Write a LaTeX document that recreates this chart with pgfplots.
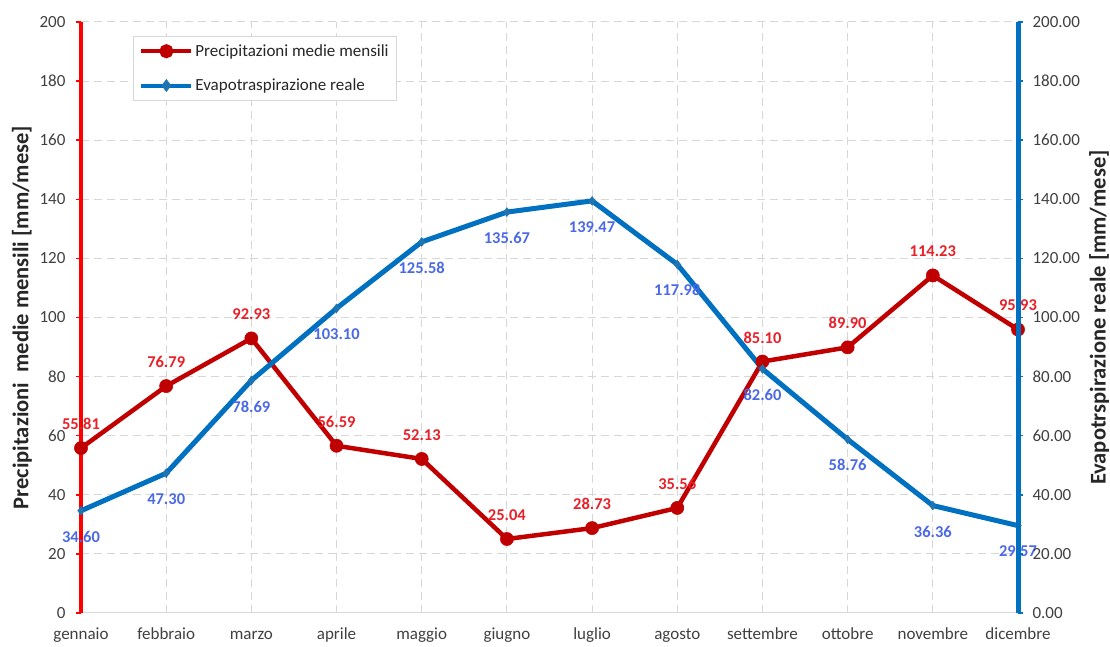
\documentclass[border=0pt]{standalone}
\usepackage{pgfplots}
\pgfplotsset{compat=1.18}
\usepackage{pgfplotstable}
\usepackage{fontspec}
\setmainfont{Carlito}

\definecolor{precred}{RGB}{192,0,0}
\definecolor{axred}{RGB}{255,0,0}
\definecolor{evblue}{RGB}{0,112,192}
\definecolor{lblred}{RGB}{232,32,40}
\definecolor{lblblue}{RGB}{75,105,230}
\definecolor{gridgray}{RGB}{215,215,215}
\definecolor{tickgray}{RGB}{64,64,64}

% monthly means: precipitation and actual evapotranspiration [mm/month]
\pgfplotstableread{
m  prec   evap
0  55.81  34.60
1  76.79  47.30
2  92.93  78.69
3  56.59  103.10
4  52.13  125.58
5  25.04  135.67
6  28.73  139.47
7  35.56  117.98
8  85.10  82.60
9  89.90  58.76
10 114.23 36.36
11 95.93  29.57
}\datatable

\pgfplotsset{
  frame/.style={
    at={(81pt,34pt)}, anchor=south west,
    scale only axis, width=937pt, height=591pt,
    xmin=0, xmax=11, ymin=0, ymax=200,
    xtick={0,...,11}, ytick={0,20,...,200},
    clip=false,
    font=\fontsize{17}{19}\selectfont,
    tick label style={text=tickgray},
    /pgf/number format/assume math mode=true,
    tick align=outside, major tick length=5pt,
  },
  vallabel/.style={
    nodes near coords,
    nodes near coords style={font=\fontsize{16.5}{18}\selectfont\bfseries,
      /pgf/number format/fixed, /pgf/number format/fixed zerofill,
      /pgf/number format/precision=2,
      /pgf/number format/assume math mode=true},
  },
}

\begin{document}
\begin{tikzpicture}
\useasboundingbox (0,0) rectangle (1110pt,647pt);

% left scale, grid, months and both series
\begin{axis}[frame,
  axis x line*=bottom, axis y line*=left,
  x axis line style={gridgray, line width=1pt},
  y axis line style={axred, line width=3.5pt},
  xtick style={draw=none},
  ytick style={axred, line width=1.5pt},
  yticklabel style={xshift=-7pt},
  xticklabels={gennaio,febbraio,marzo,aprile,maggio,giugno,luglio,agosto,settembre,ottobre,novembre,dicembre},
  xticklabel style={anchor=base, yshift=-22pt},
  xmajorgrids, ymajorgrids,
  major grid style={gridgray, line width=1pt, dash pattern=on 8pt off 5pt},
  ylabel={Precipitazioni\ \ medie mensili [mm/mese]},
  ylabel style={font=\fontsize{22.5}{24}\selectfont\bfseries, text=black!85,
    at={(axis description cs:-0.063,0.5)}, anchor=center},
]
% value labels sit beneath the lines
\addplot[draw=none, vallabel,
  nodes near coords style={text=lblred, anchor=center, yshift=24pt}]
  table[x=m, y=prec] {\datatable};
\addplot[draw=none, vallabel,
  nodes near coords style={text=lblblue, anchor=center, yshift=-26pt}]
  table[x=m, y=evap] {\datatable};
\addplot[precred, line width=4.5pt, mark=*,
  mark options={precred, fill=precred, scale=3.3, line width=0.5pt}]
  table[x=m, y=prec] {\datatable};
\addplot[evblue, line width=5pt, mark=diamond*,
  mark options={color=evblue!75!gray, fill=evblue!75!gray, scale=2.2, line width=0.5pt}]
  table[x=m, y=evap] {\datatable};
\end{axis}

% right scale and legend
\begin{axis}[frame,
  axis x line=none, axis y line*=right,
  y axis line style={evblue, line width=5pt},
  ytick style={evblue, line width=1.5pt},
  yticklabel style={xshift=6pt, /pgf/number format/fixed,
    /pgf/number format/fixed zerofill, /pgf/number format/precision=2},
  ylabel={Evapotrspirazione reale [mm/mese]},
  ylabel style={font=\fontsize{22.5}{24}\selectfont\bfseries, text=black!85,
    at={(axis description cs:1.0865,0.5)}, anchor=center},
  legend style={at={(0.0555,0.976)}, anchor=north west,
    draw=gridgray, fill=white, line width=0.8pt,
    font=\fontsize{17}{19}\selectfont, text=tickgray!60!black,
    inner xsep=6pt, inner ysep=6pt, row sep=17pt,
    /tikz/every even column/.style={column sep=0pt}},
  legend cell align=left,
  legend image code/.code={
    \draw[#1, mark repeat=2, mark phase=2]
      plot coordinates {(0pt,0pt) (25pt,0pt) (50pt,0pt)};},
]
\addlegendimage{precred, line width=4pt, mark=*,
  mark options={precred, fill=precred, scale=2.5}}
\addlegendentry{Precipitazioni medie mensili}
\addlegendimage{evblue, line width=4pt, mark=diamond*,
  mark options={color=evblue!75!gray, fill=evblue!75!gray, scale=1.6}}
\addlegendentry{Evapotraspirazione reale}
\end{axis}
\end{tikzpicture}
\end{document}
